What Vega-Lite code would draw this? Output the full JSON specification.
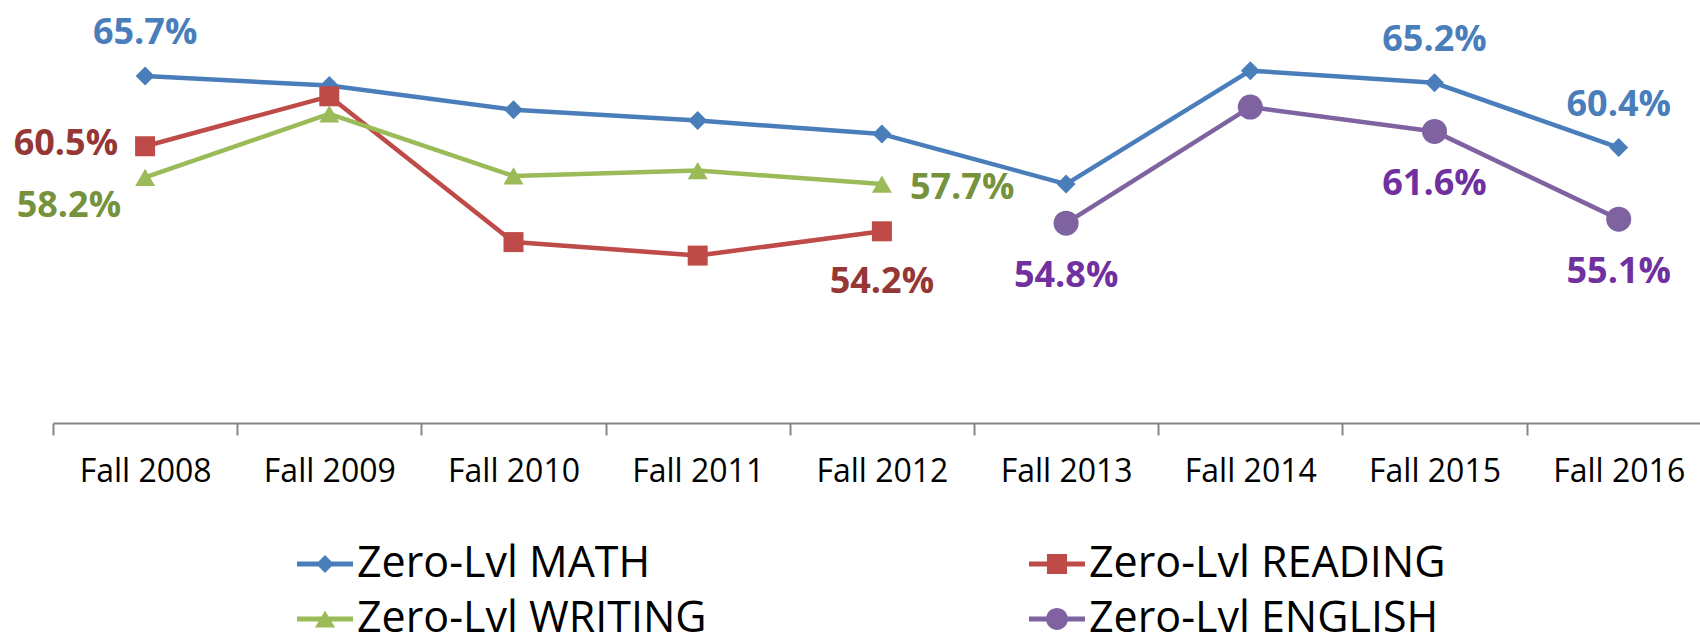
{
  "$schema": "https://vega.github.io/schema/vega-lite/v6.json",
  "width": 1647,
  "height": 405,
  "autosize": {"type": "none"},
  "padding": {"left": 53, "top": 18, "right": 0, "bottom": 217},
  "config": {"view": {"stroke": null}, "font": "Open Sans"},
  "data": {
    "values": [
      {"series": "Zero-Lvl MATH", "term": "Fall 2008", "year": 2008, "value": 0.657},
      {"series": "Zero-Lvl MATH", "term": "Fall 2009", "year": 2009, "value": 0.650},
      {"series": "Zero-Lvl MATH", "term": "Fall 2010", "year": 2010, "value": 0.632},
      {"series": "Zero-Lvl MATH", "term": "Fall 2011", "year": 2011, "value": 0.624},
      {"series": "Zero-Lvl MATH", "term": "Fall 2012", "year": 2012, "value": 0.614},
      {"series": "Zero-Lvl MATH", "term": "Fall 2013", "year": 2013, "value": 0.577},
      {"series": "Zero-Lvl MATH", "term": "Fall 2014", "year": 2014, "value": 0.661},
      {"series": "Zero-Lvl MATH", "term": "Fall 2015", "year": 2015, "value": 0.652},
      {"series": "Zero-Lvl MATH", "term": "Fall 2016", "year": 2016, "value": 0.604},
      {"series": "Zero-Lvl READING", "term": "Fall 2008", "year": 2008, "value": 0.605},
      {"series": "Zero-Lvl READING", "term": "Fall 2009", "year": 2009, "value": 0.642},
      {"series": "Zero-Lvl READING", "term": "Fall 2010", "year": 2010, "value": 0.534},
      {"series": "Zero-Lvl READING", "term": "Fall 2011", "year": 2011, "value": 0.524},
      {"series": "Zero-Lvl READING", "term": "Fall 2012", "year": 2012, "value": 0.542},
      {"series": "Zero-Lvl WRITING", "term": "Fall 2008", "year": 2008, "value": 0.582},
      {"series": "Zero-Lvl WRITING", "term": "Fall 2009", "year": 2009, "value": 0.629},
      {"series": "Zero-Lvl WRITING", "term": "Fall 2010", "year": 2010, "value": 0.583},
      {"series": "Zero-Lvl WRITING", "term": "Fall 2011", "year": 2011, "value": 0.587},
      {"series": "Zero-Lvl WRITING", "term": "Fall 2012", "year": 2012, "value": 0.577},
      {"series": "Zero-Lvl ENGLISH", "term": "Fall 2013", "year": 2013, "value": 0.548},
      {"series": "Zero-Lvl ENGLISH", "term": "Fall 2014", "year": 2014, "value": 0.634},
      {"series": "Zero-Lvl ENGLISH", "term": "Fall 2015", "year": 2015, "value": 0.616},
      {"series": "Zero-Lvl ENGLISH", "term": "Fall 2016", "year": 2016, "value": 0.551}
    ]
  },
  "encoding": {
    "x": {
      "field": "year", "type": "quantitative",
      "scale": {"domain": [2007.5, 2016.4414], "nice": false, "zero": false},
      "axis": {
        "values": [2007.5, 2008.5, 2009.5, 2010.5, 2011.5, 2012.5, 2013.5, 2014.5, 2015.5],
        "labelExpr": "'Fall ' + (datum.value + 0.5)",
        "labelOffset": 92.1,
        "title": null, "grid": false,
        "domainColor": "#868686", "domainWidth": 2,
        "tickColor": "#868686", "tickWidth": 2, "tickSize": 12,
        "labelFont": "Open Sans", "labelFontSize": 32, "labelColor": "#000000",
        "labelPadding": 21, "labelFlush": false, "labelOverlap": false, "labelBound": false, "labelAlign": "center"
      }
    },
    "y": {
      "field": "value", "type": "quantitative",
      "scale": {"domain": [0.4, 0.7], "nice": false, "zero": false},
      "axis": null
    }
  },
  "layer": [
    {
      "mark": {"type": "line", "strokeWidth": 4.5, "strokeJoin": "round"},
      "encoding": {
        "color": {
          "field": "series", "type": "nominal",
          "scale": {
            "domain": ["Zero-Lvl MATH", "Zero-Lvl READING", "Zero-Lvl WRITING", "Zero-Lvl ENGLISH"],
            "range": ["#4A7EBB", "#BE4B48", "#9BBB59", "#7F63A1"]
          },
          "legend": {
            "orient": "none", "legendX": 244, "legendY": 518,
            "columns": 2, "direction": "horizontal", "title": null,
            "labelFont": "Open Sans", "labelFontSize": 43, "labelColor": "#000000",
            "labelOffset": 4, "labelLimit": 0, "labelBaseline": "middle",
            "columnPadding": 322, "rowPadding": 5, "padding": 0,
            "symbolSize": 3136, "symbolStrokeWidth": 0, "symbolType": "circle",
            "encode": {
              "symbols": {
                "update": {
                  "shape": {"signal": "datum.value === 'Zero-Lvl MATH' ? 'M-1,-0.09L-0.23,-0.09L0,-0.32L0.23,-0.09L1,-0.09L1,0.09L0.23,0.09L0,0.32L-0.23,0.09L-1,0.09Z' : datum.value === 'Zero-Lvl READING' ? 'M-1,-0.09L-0.36,-0.09L-0.36,-0.36L0.36,-0.36L0.36,-0.09L1,-0.09L1,0.09L0.36,0.09L0.36,0.36L-0.36,0.36L-0.36,0.09L-1,0.09Z' : datum.value === 'Zero-Lvl WRITING' ? 'M-1,-0.09L-0.126,-0.09L0,-0.3L0.126,-0.09L1,-0.09L1,0.09L0.234,0.09L0.36,0.3L-0.36,0.3L-0.234,0.09L-1,0.09Z' : 'M-1,-0.09L-0.38,-0.09A0.39,0.39,0,0,1,0.38,-0.09L1,-0.09L1,0.09L0.38,0.09A0.39,0.39,0,0,1,-0.38,0.09L-1,0.09Z'"},
                  "fill": {"signal": "scale('color', datum.value)"},
                  "stroke": {"value": "transparent"},
                  "strokeWidth": {"value": 0},
                  "opacity": {"value": 1},
                  "fillOpacity": {"value": 1}
                }
              }
            }
          }
        }
      }
    },
    {
      "transform": [{"filter": "datum.series === 'Zero-Lvl MATH'"}],
      "mark": {"type": "point", "shape": "diamond", "size": 361, "filled": true, "opacity": 1, "color": "#4A7EBB"}
    },
    {
      "transform": [{"filter": "datum.series === 'Zero-Lvl READING'"}],
      "mark": {"type": "point", "shape": "square", "size": 400, "filled": true, "opacity": 1, "color": "#BE4B48"}
    },
    {
      "transform": [{"filter": "datum.series === 'Zero-Lvl WRITING'"}],
      "mark": {"type": "point", "shape": "triangle-up", "size": 400, "filled": true, "opacity": 1, "color": "#9BBB59"}
    },
    {
      "transform": [{"filter": "datum.series === 'Zero-Lvl ENGLISH'"}],
      "mark": {"type": "point", "shape": "circle", "size": 625, "filled": true, "opacity": 1, "color": "#7F63A1"}
    },
    {
      "transform": [{"filter": "datum.series === 'Zero-Lvl MATH' && indexof([2008, 2015, 2016], datum.year) >= 0"}],
      "mark": {"type": "text", "font": "Open Sans", "fontWeight": "bold", "fontSize": 36, "baseline": "middle", "align": "center", "dy": -43, "color": "#4A7EBB"},
      "encoding": {"text": {"field": "value", "type": "quantitative", "format": ".1%"}}
    },
    {
      "transform": [{"filter": "datum.series === 'Zero-Lvl ENGLISH' && indexof([2013, 2015, 2016], datum.year) >= 0"}],
      "mark": {"type": "text", "font": "Open Sans", "fontWeight": "bold", "fontSize": 36, "baseline": "middle", "align": "center", "dy": 53, "color": "#7030A0"},
      "encoding": {"text": {"field": "value", "type": "quantitative", "format": ".1%"}}
    },
    {
      "transform": [{"filter": "datum.series === 'Zero-Lvl READING' && datum.year === 2012"}],
      "mark": {"type": "text", "font": "Open Sans", "fontWeight": "bold", "fontSize": 36, "baseline": "middle", "align": "center", "dy": 51, "color": "#953735"},
      "encoding": {"text": {"field": "value", "type": "quantitative", "format": ".1%"}}
    },
    {
      "transform": [{"filter": "datum.series === 'Zero-Lvl READING' && datum.year === 2008"}],
      "mark": {"type": "text", "font": "Open Sans", "fontWeight": "bold", "fontSize": 36, "baseline": "middle", "align": "right", "dx": -27, "dy": -2, "color": "#953735"},
      "encoding": {"text": {"field": "value", "type": "quantitative", "format": ".1%"}}
    },
    {
      "transform": [{"filter": "datum.series === 'Zero-Lvl WRITING' && datum.year === 2008"}],
      "mark": {"type": "text", "font": "Open Sans", "fontWeight": "bold", "fontSize": 36, "baseline": "middle", "align": "right", "dx": -24, "dy": 29, "color": "#76923C"},
      "encoding": {"text": {"field": "value", "type": "quantitative", "format": ".1%"}}
    },
    {
      "transform": [{"filter": "datum.series === 'Zero-Lvl WRITING' && datum.year === 2012"}],
      "mark": {"type": "text", "font": "Open Sans", "fontWeight": "bold", "fontSize": 36, "baseline": "middle", "align": "left", "dx": 28, "dy": 4, "color": "#76923C"},
      "encoding": {"text": {"field": "value", "type": "quantitative", "format": ".1%"}}
    }
  ]
}
